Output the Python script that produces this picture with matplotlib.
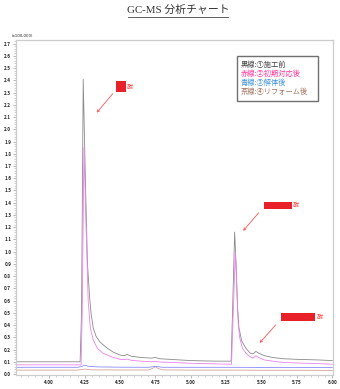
import matplotlib
matplotlib.use("Agg")
import matplotlib.pyplot as plt
from matplotlib.patches import Rectangle
from matplotlib.ticker import MultipleLocator, FormatStrFormatter

plt.rcParams['font.family'] = ['Noto Sans CJK JP', 'DejaVu Sans']

# ---- data (retention time in minutes, intensity in x100,000) ----
black_x = [3.76, 3.90, 4.00, 4.10, 4.20, 4.218, 4.228, 4.24, 4.255, 4.27, 4.285, 4.295, 4.31, 4.33, 4.36,
           4.40, 4.45, 4.50, 4.53, 4.55, 4.58, 4.65, 4.72, 4.75, 4.78, 4.85, 5.00, 5.10, 5.20, 5.285,
           5.295, 5.31, 5.32, 5.33, 5.34, 5.36, 5.39, 5.42, 5.44, 5.46, 5.48, 5.52, 5.58, 5.65, 5.75, 5.90, 6.00]
black_y = [0.10, 0.10, 0.10, 0.10, 0.10, 0.10, 0.50, 2.41, 1.60, 0.90, 0.63, 0.50, 0.38, 0.31, 0.26,
           0.22, 0.18, 0.155, 0.15, 0.16, 0.145, 0.135, 0.13, 0.135, 0.125, 0.12, 0.11, 0.107, 0.105, 0.105,
           0.50, 1.16, 0.90, 0.55, 0.38, 0.27, 0.21, 0.17, 0.165, 0.185, 0.17, 0.15, 0.135, 0.125, 0.12, 0.115, 0.11]

pink_x = [3.76, 3.90, 4.00, 4.10, 4.20, 4.225, 4.233, 4.245, 4.26, 4.275, 4.29, 4.31, 4.34, 4.38,
          4.44, 4.50, 4.53, 4.55, 4.58, 4.65, 4.72, 4.75, 4.78, 4.85, 5.00, 5.10, 5.20, 5.288,
          5.30, 5.315, 5.325, 5.335, 5.345, 5.365, 5.39, 5.42, 5.44, 5.46, 5.48, 5.52, 5.58, 5.65, 5.75, 5.90, 6.00]
pink_y = [0.075, 0.075, 0.075, 0.075, 0.075, 0.075, 0.50, 1.85, 1.20, 0.60, 0.38, 0.28, 0.21, 0.17,
          0.14, 0.12, 0.118, 0.122, 0.112, 0.105, 0.10, 0.104, 0.098, 0.095, 0.088, 0.085, 0.082, 0.08,
          0.50, 1.00, 0.72, 0.42, 0.30, 0.21, 0.17, 0.14, 0.13, 0.15, 0.135, 0.115, 0.105, 0.095, 0.09, 0.085, 0.08]

blue_x = [3.76, 4.00, 4.20, 4.23, 4.25, 4.28, 4.35, 4.50, 4.70, 4.75, 4.80, 5.00, 5.30, 5.50, 5.75, 6.00]
blue_y = [0.055, 0.055, 0.055, 0.062, 0.072, 0.062, 0.058, 0.056, 0.055, 0.062, 0.055, 0.055, 0.055, 0.054, 0.054, 0.053]

brown_x = [3.76, 4.00, 4.20, 4.25, 4.30, 4.50, 4.70, 4.73, 4.75, 4.77, 4.80, 5.00, 5.30, 5.50, 5.75, 6.00]
brown_y = [0.032, 0.032, 0.032, 0.040, 0.034, 0.033, 0.033, 0.045, 0.060, 0.045, 0.034, 0.032, 0.032, 0.031, 0.031, 0.030]

legend_lines = ["黒線:①施工前", "赤線:②初期対応後", "青線:③解体後", "茶線:④リフォーム後"]
legend_colors = ["#404040", "#ff3399", "#3a8fd8", "#a0705a"]

x_ticks = [4.00, 4.25, 4.50, 4.75, 5.00, 5.25, 5.50, 5.75, 6.00]

# ---- figure ----
W, H = 340, 389
fig = plt.figure(figsize=(W / 100, H / 100), dpi=100)
ax = fig.add_axes([16 / W, 1 - 375 / H, (333 - 16) / W, (375 - 40) / H])

ax.plot(brown_x, brown_y, color="#d09a90", lw=0.55)
ax.plot(blue_x, blue_y, color="#8080ff", lw=0.55)
ax.plot(black_x, black_y, color="#8a8a8a", lw=0.6)
ax.plot(pink_x, pink_y, color="#ee80f0", lw=0.6)

ax.set_xlim(3.765, 6.005)
ax.set_ylim(-0.008, 2.73)

ax.set_xticks(x_ticks)
ax.xaxis.set_major_formatter(FormatStrFormatter('%.2f'))
ax.xaxis.set_minor_locator(MultipleLocator(0.05))
ax.yaxis.set_major_locator(MultipleLocator(0.1))
ax.yaxis.set_major_formatter(FormatStrFormatter('%.1f'))
ax.yaxis.set_minor_locator(MultipleLocator(0.02))
ax.tick_params(axis='both', which='major', labelsize=3.3, length=2.5, width=0.5,
               colors="#999999", labelcolor="#222222", pad=1)
ax.tick_params(axis='both', which='minor', length=1.3, width=0.4, colors="#aaaaaa")
for lab in ax.get_xticklabels() + ax.get_yticklabels():
    lab.set_fontweight('bold')
for s in ax.spines.values():
    s.set_color("#cccccc")
    s.set_linewidth(0.9)

fig.text(12 / W, 1 - 38 / H, "(x100,000)", fontsize=2.8, color="#222222",
         family="DejaVu Sans", ha="left", va="bottom")

# ---- title ----
fig.text(178 / W, 1 - 10 / H, "GC-MS 分析チャート", fontsize=7.8, color="#333333",
         ha="center", va="center", family=["Liberation Serif", "Noto Sans CJK JP"])
fig.add_artist(plt.Line2D([128 / W, 228 / W], [1 - 17 / H, 1 - 17 / H], color="#444444", lw=0.6))

# ---- legend box ----
fig.add_artist(Rectangle((237 / W, 1 - 101 / H), (318 - 237) / W, (101 - 56) / H,
                         transform=fig.transFigure, fill=False, edgecolor="#707070", lw=1.0))
for i, (txt, c) in enumerate(zip(legend_lines, legend_colors)):
    fig.text(241 / W, 1 - (64.5 + 9.3 * i) / H, txt, fontsize=5.2, color=c, ha="left", va="center")

# ---- redacted annotations ----
red = "#e8202a"
def px2data(px, py):
    return (4.0 + (px - 49.5) / 141.6, (374 - py) / 122.2)

boxes = [(116, 81, 126, 92, 127, 86.5, (113, 94), (97, 113)),
         (264, 201.5, 292, 208.5, 293, 205, (259, 213), (243.5, 231)),
         (281, 313, 315, 321, 316.5, 317, (276, 325), (260, 343))]
for (x0, y0, x1, y1, tx, ty, a0, a1) in boxes:
    fig.add_artist(Rectangle((x0 / W, 1 - y1 / H), (x1 - x0) / W, (y1 - y0) / H,
                             transform=fig.transFigure, color=red, lw=0))
    fig.text(tx / W, 1 - ty / H, "酸", fontsize=4.5, color="#ff4040", ha="left", va="center")
    ax.annotate("", xy=px2data(*a1), xytext=px2data(*a0),
                arrowprops=dict(arrowstyle="->", color="#ff5555", lw=0.6,
                                mutation_scale=4, shrinkA=0, shrinkB=0))

fig.savefig("out.png", dpi=100)
